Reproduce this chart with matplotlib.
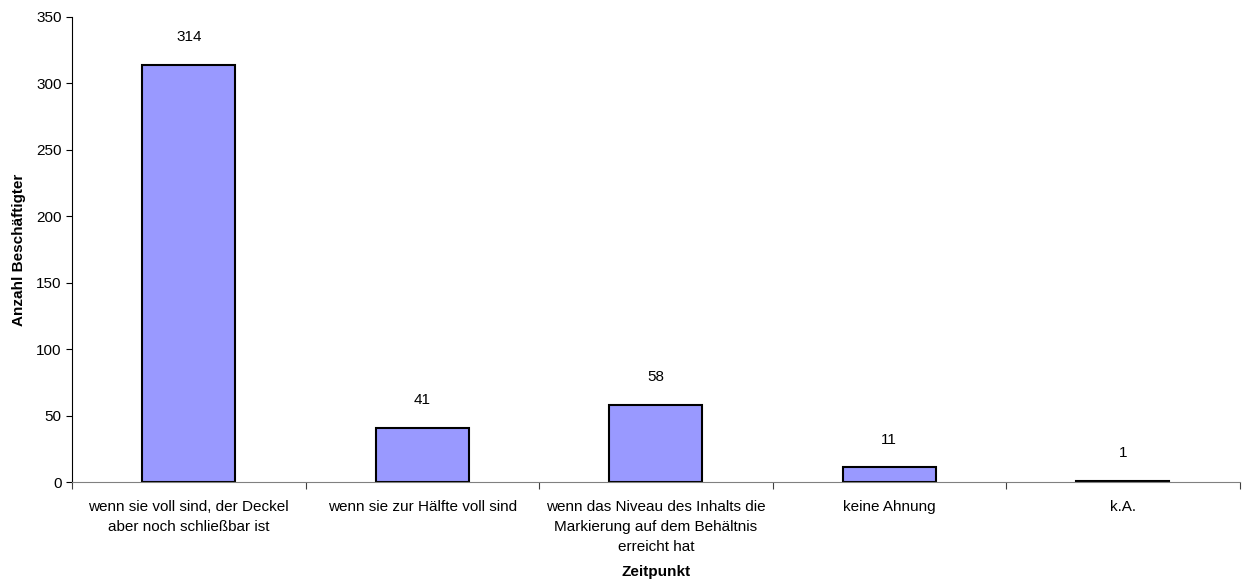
import numpy as np
import matplotlib.pyplot as plt

plt.rcParams['font.family'] = ['Liberation Sans', 'DejaVu Sans']

categories = ['wenn sie voll sind, der Deckel\naber noch schließbar ist',
              'wenn sie zur Hälfte voll sind',
              'wenn das Niveau des Inhalts die\nMarkierung auf dem Behältnis\nerreicht hat',
              'keine Ahnung',
              'k.A.']
values = [314, 41, 58, 11, 1]

fig = plt.figure(figsize=(12.42, 5.85), dpi=100)
ax = fig.add_axes([0.058, 0.176, 0.940, 0.795])

x = np.arange(len(values))
ax.bar(x, values, width=0.4, color='#9999FF', edgecolor='black', linewidth=1.5)

# value labels above bars
for xi, v in zip(x, values):
    ax.annotate(str(v), (xi, v), xytext=(0, 15), textcoords='offset points',
                ha='center', va='bottom', fontsize=11)

ax.set_xlim(-0.5, len(values) - 0.5)
ax.set_ylim(0, 350)
ax.set_yticks(range(0, 351, 50))
ax.tick_params(axis='y', labelsize=11, length=4, direction='out')

# tick marks between categories, labels centred under bars
ax.set_xticks(np.arange(-0.5, len(values), 1.0))
ax.set_xticklabels([])
ax.tick_params(axis='x', which='major', length=5, direction='out', color='#404040')
ax.set_xticks(x, minor=True)
ax.set_xticklabels(categories, minor=True, fontsize=11, linespacing=1.55, va='top')
ax.tick_params(axis='x', which='minor', length=0, pad=13)

ax.spines['top'].set_visible(False)
ax.spines['right'].set_visible(False)
ax.spines['bottom'].set_color('#808080')

ax.set_ylabel('Anzahl Beschäftigter', fontweight='bold', fontsize=11, labelpad=7)
ax.set_xlabel('Zeitpunkt', fontweight='bold', fontsize=11, labelpad=8)

fig.savefig('out.png', dpi=100)
